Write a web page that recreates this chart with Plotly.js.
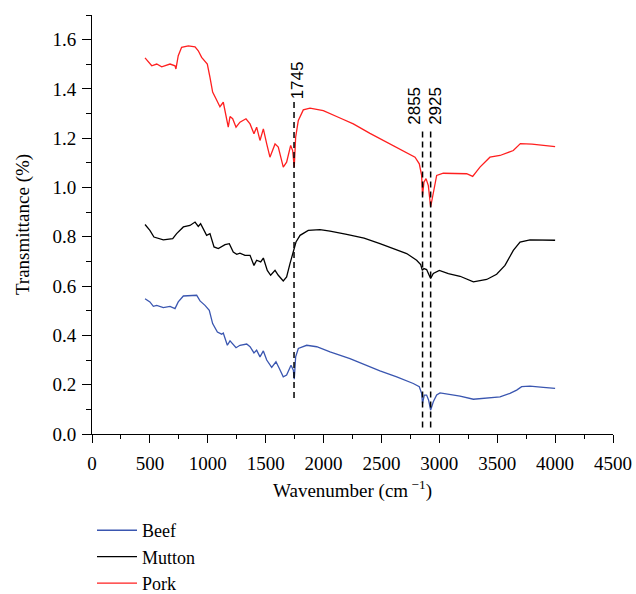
<!DOCTYPE html>
<html>
<head>
<meta charset="utf-8">
<script src="https://cdn.plot.ly/plotly-3.0.1.min.js"></script>
<style>body{margin:0;background:#fff}#chart{width:636px;height:594px}</style>
</head>
<body>
<div id="chart"></div>
<script>
// Pork (red)
const porkX = [458,516,559,602,674,717,725,745,774,832,890,918,947,996,1019,1042,1071,1105,1134,1149,1177,1192,1215,1244,1278,1330,1365,1399,1422,1451,1480,1509,1537,1581,1609,1652,1681,1716,1733,1747,1759,1782,1825,1883,1998,2142,2257,2401,2545,2689,2790,2827,2847,2855,2867,2885,2905,2925,2948,2977,3034,3150,3236,3288,3351,3437,3524,3639,3700,3800,3900,4000];
const porkY = [1.526,1.494,1.501,1.490,1.501,1.494,1.481,1.535,1.569,1.575,1.571,1.555,1.528,1.501,1.447,1.387,1.360,1.328,1.346,1.312,1.245,1.288,1.279,1.245,1.265,1.279,1.258,1.218,1.245,1.191,1.238,1.177,1.123,1.177,1.164,1.083,1.103,1.171,1.150,1.083,1.204,1.272,1.315,1.322,1.312,1.282,1.258,1.220,1.184,1.150,1.123,1.096,1.049,0.968,1.022,1.036,1.008,0.921,0.975,1.049,1.058,1.058,1.056,1.045,1.083,1.123,1.130,1.150,1.178,1.176,1.170,1.166];
// Mutton (black)
const muttonX = [458,500,535,616,697,731,789,846,890,918,938,961,990,1019,1054,1091,1120,1149,1186,1220,1250,1278,1321,1365,1399,1422,1457,1480,1514,1543,1581,1609,1652,1681,1710,1739,1762,1797,1868,1969,2056,2200,2350,2487,2602,2718,2804,2839,2853,2867,2890,2913,2925,2948,3000,3078,3179,3294,3409,3495,3567,3639,3697,3783,3898,4000];
const muttonY = [0.850,0.826,0.799,0.788,0.793,0.813,0.840,0.846,0.860,0.842,0.853,0.833,0.806,0.813,0.759,0.752,0.759,0.768,0.772,0.738,0.729,0.734,0.725,0.725,0.684,0.705,0.698,0.714,0.664,0.644,0.664,0.644,0.621,0.637,0.691,0.738,0.779,0.806,0.826,0.829,0.823,0.810,0.795,0.772,0.752,0.732,0.705,0.687,0.664,0.671,0.667,0.644,0.631,0.651,0.664,0.651,0.640,0.617,0.627,0.648,0.684,0.745,0.779,0.788,0.788,0.786];
// Beef (blue)
const beefX = [458,500,530,559,616,674,717,745,789,875,904,933,976,1013,1042,1083,1120,1134,1149,1169,1192,1215,1244,1278,1336,1365,1399,1422,1451,1480,1509,1552,1589,1618,1652,1681,1719,1739,1747,1759,1782,1854,1941,2056,2228,2487,2632,2775,2827,2847,2855,2870,2890,2907,2925,2948,2977,3006,3093,3179,3294,3409,3524,3610,3668,3711,3783,3898,4000];
const beefY = [0.549,0.536,0.518,0.522,0.513,0.518,0.509,0.536,0.560,0.563,0.563,0.540,0.522,0.502,0.448,0.414,0.405,0.410,0.387,0.360,0.378,0.367,0.350,0.360,0.365,0.354,0.329,0.340,0.313,0.337,0.300,0.270,0.293,0.266,0.232,0.239,0.279,0.259,0.222,0.313,0.347,0.360,0.354,0.333,0.306,0.256,0.232,0.205,0.192,0.165,0.124,0.158,0.158,0.138,0.097,0.131,0.158,0.167,0.161,0.154,0.141,0.147,0.151,0.165,0.178,0.192,0.194,0.189,0.185];

// Marked peaks and their dashed guide extents
const peakX = [1745, 2855, 2925];
const peakLabels = ["1745", "2855", "2925"];
const peakTop = [1.36, 1.23, 1.23];
const peakBottom = [0.146, 0.026, 0.026];
const peakLabelY = [1.435, 1.33, 1.33];
const peakLabelShift = [3, -8, 5];

const serif = "Liberation Serif, Times New Roman, serif";

const traces = [
  {x: beefX, y: beefY, name: "Beef", mode: "lines", line: {color: "#3a56b0", width: 1.3}},
  {x: muttonX, y: muttonY, name: "Mutton", mode: "lines", line: {color: "#000000", width: 1.3}},
  {x: porkX, y: porkY, name: "Pork", mode: "lines", line: {color: "#ff1f1f", width: 1.3}}
];

const shapes = peakX.map((p, i) => ({
  type: "line", xref: "x", yref: "y", x0: p, x1: p, y0: peakBottom[i], y1: peakTop[i],
  line: {color: "#000", width: 1.5, dash: "6px,4px"}
}));
const annotations = peakX.map((p, i) => ({
  x: p, y: peakLabelY[i], xref: "x", yref: "y", text: peakLabels[i], showarrow: false,
  textangle: -90, xshift: peakLabelShift[i], font: {family: "Liberation Sans, Arial, sans-serif", size: 17, color: "#000"}
}));

const layout = {
  width: 636, height: 594,
  margin: {l: 92, r: 23, t: 15, b: 160, autoexpand: false},
  paper_bgcolor: "#fff", plot_bgcolor: "#fff",
  font: {family: serif, size: 19, color: "#000"},
  showlegend: true,
  legend: {x: 0, xanchor: "left", yref: "container", y: 0.138, yanchor: "top", orientation: "v",
           itemwidth: 40,
           font: {family: serif, size: 18, color: "#000"}, bgcolor: "rgba(0,0,0,0)"},
  xaxis: {range: [0, 4500], dtick: 500, tick0: 0, showgrid: false, zeroline: false,
          showline: true, linecolor: "#000", linewidth: 1, ticks: "outside", ticklen: 8, tickcolor: "#000",
          ticklabelstandoff: 4,
          minor: {dtick: 250, ticks: "outside", ticklen: 4, tickcolor: "#000", showgrid: false},
          tickfont: {family: serif, size: 19},
          title: {text: "Wavenumber (cm<sup> −1</sup>)", font: {family: serif, size: 19}, standoff: 10}},
  yaxis: {range: [0, 1.7], dtick: 0.2, tick0: 0, tickformat: ".1f", showgrid: false, zeroline: false,
          showline: true, linecolor: "#000", linewidth: 1, ticks: "outside", ticklen: 9, tickcolor: "#000",
          ticklabelstandoff: 2,
          minor: {dtick: 0.1, ticks: "outside", ticklen: 5, tickcolor: "#000", showgrid: false},
          tickfont: {family: serif, size: 19},
          title: {text: "Transmittance (%)", font: {family: serif, size: 19}, standoff: 17}},
  shapes: shapes,
  annotations: annotations
};

Plotly.newPlot("chart", traces, layout, {displayModeBar: false, staticPlot: true});
</script>
</body>
</html>
